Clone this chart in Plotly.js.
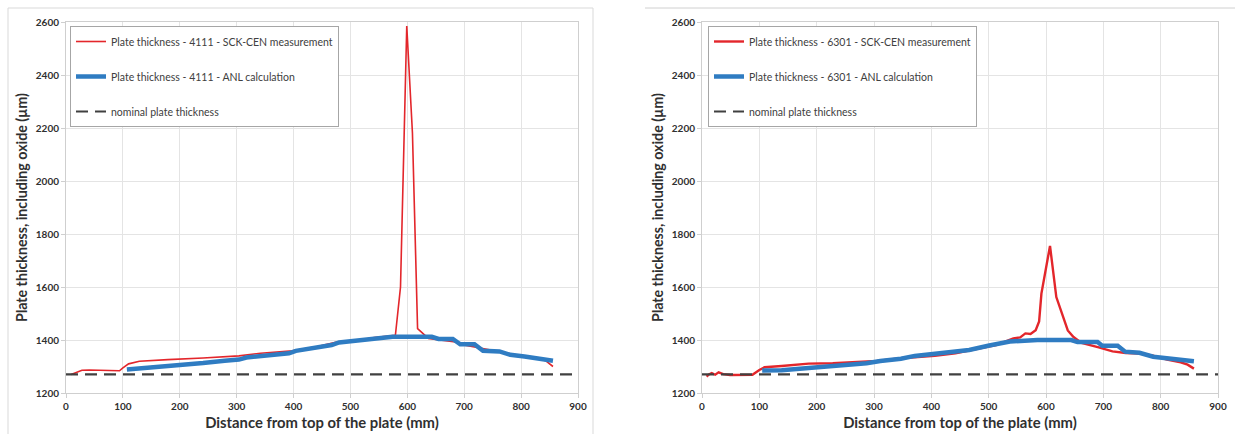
<!DOCTYPE html>
<html>
<head>
<meta charset="utf-8">
<script src="https://cdn.plot.ly/plotly-3.0.1.min.js"></script>
<style>html,body{margin:0;padding:0;background:#fff;}#chart{width:1235px;height:434px;}</style>
</head>
<body>
<div id="chart"></div>
<script>
// ---- data ----
const nominalThickness = 1270;
const nominalX = [0, 900];

// Plate 4111
const x4111Meas = [9,19,28,41,66,94,100,110,129,154,179,241,304,342,398,442,474,517,542,579,588,599,609,618,627,637,681,699,730,768,806,825,843,856];
const y4111Meas = [1270,1280,1286,1287,1285,1284,1295,1310,1320,1322,1326,1332,1340,1350,1359,1375,1391,1400,1409,1418,1600,2585,2180,1443,1424,1406,1394,1381,1369,1354,1338,1334,1322,1300];
const x4111Calc = [107,147,198,241,279,304,317,367,392,404,430,467,480,524,542,574,643,655,680,693,718,733,762,781,806,831,856];
const y4111Calc = [1289,1295,1305,1313,1322,1326,1334,1344,1350,1359,1367,1381,1391,1400,1406,1412,1412,1404,1404,1384,1384,1359,1357,1344,1338,1329,1322];

// Plate 6301
const x6301Meas = [8,12,17,23,29,37,49,73,88,100,109,139,186,228,264,305,347,406,442,484,513,543,555,564,573,582,588,592,600,607,618,627,638,648,662,692,716,739,763,787,811,835,847,858];
const y6301Meas = [1262,1270,1275,1269,1278,1271,1268,1268,1269,1287,1297,1302,1311,1312,1315,1321,1331,1340,1350,1369,1381,1406,1410,1425,1423,1437,1470,1575,1675,1755,1562,1506,1436,1411,1389,1372,1357,1351,1349,1341,1326,1316,1307,1292];
const x6301Calc = [105,139,186,240,287,311,347,371,418,466,501,537,585,644,655,690,698,725,738,763,787,823,858];
const y6301Calc = [1285,1286,1294,1302,1312,1321,1329,1340,1350,1362,1379,1394,1400,1400,1392,1392,1378,1378,1356,1352,1337,1329,1320];

const names = {
  m4111: 'Plate thickness - 4111 - SCK-CEN measurement',
  c4111: 'Plate thickness - 4111 - ANL calculation',
  m6301: 'Plate thickness - 6301 - SCK-CEN measurement',
  c6301: 'Plate thickness - 6301 - ANL calculation',
  nom: 'nominal plate thickness'
};
const xTitle = 'Distance from top of the plate (mm)';
const yTitle = 'Plate thickness, including oxide (µm)';

// ---- styles ----
const RED = '#e3262b', BLUE = '#2f7cc2', DASH = '#404040';
const FONT = 'Lato, "Open Sans", sans-serif';
const TXT = '#303030';

const traces = [
  {x: x4111Meas, y: y4111Meas, name: names.m4111, mode: 'lines', line: {color: RED, width: 1.6}, xaxis: 'x', yaxis: 'y', legend: 'legend', legendgroup: 'a1'},
  {x: x4111Calc, y: y4111Calc, name: names.c4111, mode: 'lines', line: {color: BLUE, width: 4.5}, xaxis: 'x', yaxis: 'y', legend: 'legend', legendgroup: 'a2'},
  {x: nominalX, y: nominalX.map(() => nominalThickness), name: names.nom, mode: 'lines', line: {color: DASH, width: 2.2, dash: '12px,7px'}, xaxis: 'x', yaxis: 'y', legend: 'legend', legendgroup: 'a3'},
  {x: x6301Meas, y: y6301Meas, name: names.m6301, mode: 'lines', line: {color: RED, width: 2.4}, xaxis: 'x2', yaxis: 'y2', legend: 'legend2', legendgroup: 'b1'},
  {x: x6301Calc, y: y6301Calc, name: names.c6301, mode: 'lines', line: {color: BLUE, width: 4.5}, xaxis: 'x2', yaxis: 'y2', legend: 'legend2', legendgroup: 'b2'},
  {x: nominalX, y: nominalX.map(() => nominalThickness), name: names.nom, mode: 'lines', line: {color: DASH, width: 2.2, dash: '12px,7px'}, xaxis: 'x2', yaxis: 'y2', legend: 'legend2', legendgroup: 'b3'}
];

const W = 1235, H = 434;
const yDom = [(H - 393) / H, (H - 22) / H];
function xAx(dom, anchor) {
  return {
    domain: dom, anchor: anchor, range: [0, 900], dtick: 100, tick0: 0,
    showgrid: true, gridcolor: '#e4e4e4', gridwidth: 1, zeroline: false,
    showline: true, linecolor: '#cfcfcf', linewidth: 1, mirror: true,
    ticks: 'outside', ticklen: 4, tickcolor: '#cfcfcf',
    tickfont: {family: FONT, size: 10, color: TXT, weight: 'bold'},
    automargin: false,
    title: {text: xTitle, font: {family: FONT, size: 14.8, color: TXT, weight: 'bold'}, standoff: 6}
  };
}
function yAx(anchor) {
  return {
    domain: yDom, anchor: anchor, range: [1200, 2600], dtick: 200, tick0: 1200,
    showgrid: true, gridcolor: '#e4e4e4', gridwidth: 1, zeroline: false,
    showline: true, linecolor: '#cfcfcf', linewidth: 1, mirror: true,
    ticks: 'outside', ticklen: 4, tickcolor: '#cfcfcf',
    tickfont: {family: FONT, size: 10, color: TXT, weight: 'bold'},
    automargin: false,
    title: {text: yTitle, font: {family: FONT, size: 14.2, color: TXT, weight: 'bold'}, standoff: 4}
  };
}
function leg(xp) {
  return {
    x: xp, y: (H - 26) / H, xanchor: 'left', yanchor: 'top',
    bgcolor: '#ffffff', bordercolor: '#a6a6a6', borderwidth: 1,
    font: {family: FONT, size: 10.5, color: '#404040'},
    tracegroupgap: 16, itemwidth: 30, traceorder: 'grouped'
  };
}

const layout = {
  width: W, height: H,
  margin: {l: 0, r: 0, t: 0, b: 0},
  paper_bgcolor: '#ffffff', plot_bgcolor: '#ffffff',
  showlegend: true,
  xaxis: xAx([66 / W, 578 / W], 'y'),
  yaxis: yAx('x'),
  xaxis2: xAx([702 / W, 1218 / W], 'y2'),
  yaxis2: yAx('x2'),
  legend: leg(70 / W),
  legend2: leg(708 / W),
  shapes: [
    {type: 'rect', xref: 'paper', yref: 'paper', x0: 8 / W, x1: 593 / W, y0: -0.01, y1: (H - 8) / H, line: {color: '#d9d9d9', width: 1}, fillcolor: 'rgba(0,0,0,0)', layer: 'below'},
    {type: 'line', xref: 'paper', yref: 'paper', x0: 645 / W, x1: 1, y0: (H - 8) / H, y1: (H - 8) / H, line: {color: '#d0d0d0', width: 1}, layer: 'below'}
  ]
};

Plotly.newPlot('chart', traces, layout, {staticPlot: true, displayModeBar: false});
</script>
</body>
</html>
